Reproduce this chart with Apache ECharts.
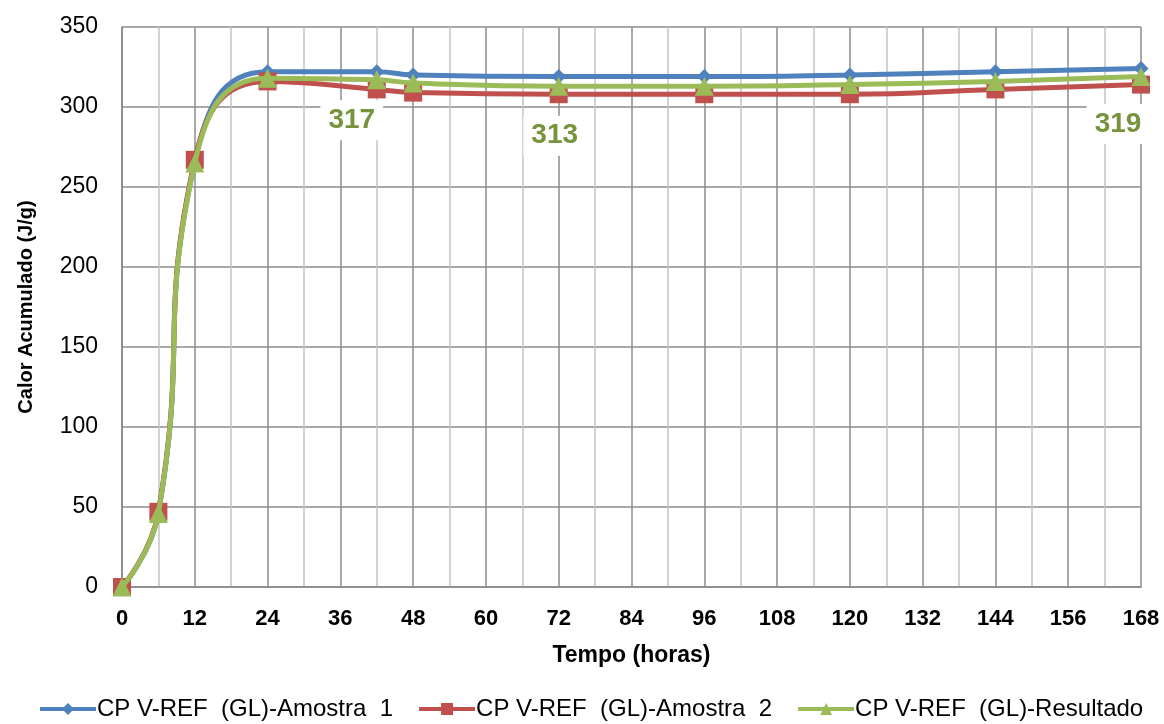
<!DOCTYPE html>
<html>
<head>
<meta charset="utf-8">
<style>
  html, body { margin: 0; padding: 0; background: #fff; }
  #chart { width: 1164px; height: 724px; }
</style>
<script src="https://cdn.jsdelivr.net/npm/echarts@6/dist/echarts.min.js"></script>
</head>
<body>
<div id="chart"></div>
<script>
// tempo (horas)
const hours = [0, 6, 12, 24, 42, 48, 72, 96, 120, 144, 168];
const amostra1 = [0, 46, 266, 322, 322, 320, 319, 319, 320, 322, 324];
const amostra2 = [0, 47, 267, 316, 311, 309, 308, 308, 308, 311, 314];
const resultado = [0, 46, 265, 318, 317, 315, 313, 313, 314, 316, 319];
const seriesNames = [
  "CP V-REF  (GL)-Amostra  1",
  "CP V-REF  (GL)-Amostra  2",
  "CP V-REF  (GL)-Resultado",
];
// pontos com rótulo na curva de resultado
const labelIdx = [4, 6, 10];
const labelOffsets = { 4: [-25, 6], 6: [-4, 15], 10: [-23, 13] };

const font = "'Liberation Sans', Arial, sans-serif";
const colors = ["#4F81BD", "#C0504D", "#9BBB59"];

const toPairs = (vals) => hours.map((h, i) => [h, vals[i]]);

const chart = echarts.init(document.getElementById("chart"));

const lineSeries = (name, vals, idx, symbol, size) => ({
  name: name,
  type: "line",
  smooth: 0.5,
  symbol: symbol,
  symbolSize: size,
  z: 2 + idx,
  lineStyle: { width: 5, color: colors[idx] },
  itemStyle: { color: colors[idx] },
  data: toPairs(vals),
});

const resultSeries = lineSeries(seriesNames[2], resultado, 2, "triangle", 19);
resultSeries.data = hours.map((h, i) => {
  const item = { value: [h, resultado[i]] };
  if (labelIdx.includes(i)) {
    item.label = {
      show: true,
      position: "bottom",
      offset: labelOffsets[i],
      formatter: String(resultado[i]),
      color: "#77933C",
      fontFamily: font,
      fontSize: 28,
      fontWeight: "bold",
      backgroundColor: "#fff",
      padding: [6, 8],
    };
  }
  return item;
});

chart.setOption({
  animation: false,
  textStyle: { fontFamily: font },
  grid: { left: 122, right: 23, top: 27, bottom: 137, containLabel: false },
  xAxis: {
    type: "value",
    min: 0,
    max: 168,
    interval: 12,
    name: "Tempo (horas)",
    nameLocation: "middle",
    nameGap: 57,
    nameTextStyle: { fontFamily: font, fontSize: 23, fontWeight: "bold", color: "#000" },
    axisLine: { show: true, lineStyle: { color: "#888", width: 1.5 } },
    axisTick: { show: false },
    axisLabel: { margin: 21, fontFamily: font, fontSize: 22, fontWeight: "bold", color: "#000" },
    splitLine: { show: true, lineStyle: { color: "#8c8c8c", width: 1.5 } },
    minorTick: { show: false, splitNumber: 2 },
    minorSplitLine: { show: true, lineStyle: { color: "#c4c4c4", width: 1.5 } },
  },
  yAxis: {
    type: "value",
    min: 0,
    max: 350,
    interval: 50,
    name: "Calor Acumulado (J/g)",
    nameLocation: "middle",
    nameGap: 86,
    nameTextStyle: { fontFamily: font, fontSize: 20, fontWeight: "bold", color: "#000" },
    axisLine: { show: true, lineStyle: { color: "#888", width: 1.5 } },
    axisTick: { show: false },
    axisLabel: { margin: 24, fontFamily: font, fontSize: 23, color: "#000" },
    splitLine: { show: true, lineStyle: { color: "#8c8c8c", width: 1.5 } },
  },
  legend: {
    top: 692,
    left: 33,
    itemWidth: 56,
    itemHeight: 15,
    itemGap: 24,
    lineStyle: { width: 4 },
    textStyle: { fontFamily: font, fontSize: 24, color: "#000", padding: [0, 0, 0, -4] },
    data: seriesNames,
  },
  series: [
    lineSeries(seriesNames[0], amostra1, 0, "diamond", 15),
    lineSeries(seriesNames[1], amostra2, 1, "rect", 18),
    resultSeries,
  ],
});
</script>
</body>
</html>
